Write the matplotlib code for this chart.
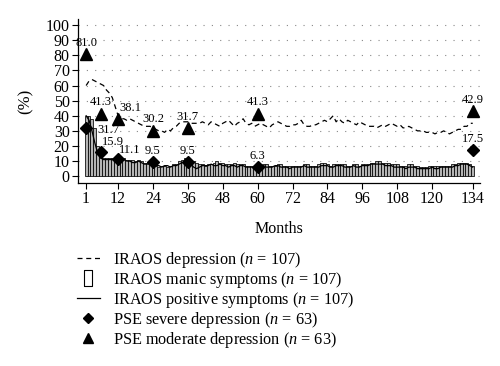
import matplotlib
matplotlib.use("Agg")
import matplotlib.pyplot as plt
from matplotlib.lines import Line2D
import numpy as np

plt.rcParams['font.family'] = ['Liberation Serif', 'DejaVu Serif']
plt.rcParams['mathtext.fontset'] = 'custom'
plt.rcParams['mathtext.it'] = 'Liberation Serif:italic'
plt.rcParams['mathtext.rm'] = 'Liberation Serif'

months = list(range(1, 135))

iraos_depression = [60, 63, 64, 63, 62, 61, 60, 57, 55, 52, 46, 40, 38, 38, 37, 38, 37, 36, 35, 34,
                    33, 33, 33, 32, 31, 30, 30, 29, 31, 30, 32, 33, 35, 36, 36, 36, 35, 35, 35, 35,
                    36, 35, 34, 36, 35, 34, 33, 35, 36, 37, 35, 33, 35, 36, 38, 35, 34, 35, 33, 34,
                    35, 34, 33, 32, 34, 35, 36, 35, 34, 33, 33, 34, 34, 35, 37, 34, 33, 33, 34, 34,
                    35, 36, 37, 36, 38, 40, 36, 38, 36, 35, 37, 36, 35, 34, 36, 35, 34, 33, 33, 33,
                    32, 33, 34, 33, 34, 35, 34, 33, 34, 32, 32, 33, 32, 31, 30, 30, 30, 29, 29, 29,
                    28, 29, 29, 30, 29, 28, 29, 30, 31, 31, 33, 33, 35, 35]

iraos_manic = [40, 40, 38, 32, 20, 14, 12, 12, 12, 12, 12, 12, 12, 12, 11, 11, 11, 10, 11, 10,
               9, 9, 9, 8, 7, 6, 7, 7, 6, 7, 8, 8, 10, 11, 12, 12, 11, 10, 9, 8,
               8, 7, 8, 8, 9, 10, 9, 9, 8, 8, 8, 9, 8, 8, 8, 7, 7, 7, 7, 7,
               7, 8, 8, 7, 7, 7, 8, 8, 7, 7, 7, 7, 7, 7, 7, 8, 8, 7, 7, 7,
               8, 9, 9, 8, 7, 8, 8, 8, 8, 8, 7, 7, 8, 8, 7, 8, 8, 8, 9, 9,
               10, 10, 9, 9, 9, 8, 8, 8, 7, 7, 7, 8, 8, 7, 7, 6, 6, 6, 7, 7,
               7, 7, 7, 7, 7, 7, 8, 8, 9, 9, 9, 9, 8, 7]

iraos_positive = [40, 37, 30, 22, 15, 12, 11, 11, 11, 11, 11, 10, 11, 11, 10, 10, 9, 9, 10, 9,
                  8, 8, 8, 8, 7, 7, 6, 7, 7, 6, 7, 7, 8, 9, 9, 9, 8, 6, 5, 6,
                  7, 7, 7, 8, 7, 7, 8, 7, 7, 6, 7, 7, 6, 7, 7, 6, 6, 6, 5, 6,
                  6, 7, 6, 6, 6, 7, 7, 6, 6, 6, 5, 6, 6, 6, 6, 7, 6, 6, 6, 6,
                  6, 7, 7, 7, 6, 6, 7, 7, 7, 6, 6, 6, 7, 6, 6, 7, 7, 7, 8, 8,
                  8, 8, 8, 7, 7, 7, 6, 6, 6, 6, 5, 6, 6, 6, 5, 5, 5, 5, 5, 6,
                  5, 5, 6, 6, 6, 6, 6, 7, 7, 8, 8, 8, 7, 6]

pse_months = [1, 6, 12, 24, 36, 60, 134]
pse_severe = [31.7, 15.9, 11.1, 9.5, 9.5, 6.3, 17.5]
pse_moderate = [81.0, 41.3, 38.1, 30.2, 31.7, 41.3, 42.9]

xticks = [1, 12, 24, 36, 48, 60, 72, 84, 96, 108, 120, 134]
yticks = list(range(0, 101, 10))

fig = plt.figure(figsize=(5.0, 3.66), dpi=100)
ax = fig.add_axes([0.156, 0.5, 0.804, 0.448])

for y in yticks:
    ax.axhline(y, color='#888888', lw=0.8, ls=(0, (1, 6.5)), zorder=0)

ax.bar(months, iraos_manic, width=1.0, color='#b4b4b4', edgecolor='black', lw=0.55, zorder=2)
ax.plot(months, iraos_positive, color='black', lw=0.9, zorder=3)
ax.plot(months, iraos_depression, color='black', lw=0.9, ls=(0, (4, 3)), zorder=3)
ax.plot(pse_months, pse_severe, ls='none', marker='D', ms=6.5, color='black', zorder=4)
ax.plot(pse_months, pse_moderate, ls='none', marker='^', ms=8.5, color='black', zorder=4)

lab_fs = 9
for m, v in zip(pse_months, pse_moderate):
    if m == 12:
        ax.text(m + 0.5, v + 3, f"{v:.1f}", ha='left', va='bottom', fontsize=lab_fs, zorder=5)
    else:
        ax.text(m, v + 3.5, f"{v:.1f}", ha='center', va='bottom', fontsize=lab_fs, zorder=5)
for m, v in zip(pse_months, pse_severe):
    if m == 1:
        ax.text(m + 4, v - 1, f"{v:.1f}", ha='left', va='center', fontsize=lab_fs, zorder=5)
    elif m in (6, 12):
        ax.text(m + 0.3, v + 2.5, f"{v:.1f}", ha='left', va='bottom', fontsize=lab_fs, zorder=5)
    else:
        ax.text(m, v + 3, f"{v:.1f}", ha='center', va='bottom', fontsize=lab_fs, zorder=5)

ax.set_xlim(-1.8, 136.5)
ax.set_ylim(-4.5, 104)
ax.set_xticks(xticks)
ax.set_yticks(yticks)
ax.tick_params(labelsize=11.5, length=4, width=0.8, direction='out', pad=2)
for s in ['top', 'right']:
    ax.spines[s].set_visible(False)
ax.spines['left'].set_linewidth(0.9)
ax.spines['bottom'].set_linewidth(0.9)
ax.set_xlabel('Months', fontsize=11.5, labelpad=10)
ax.set_ylabel('(%)', fontsize=12, labelpad=9)

rect_marker = [(-0.45, -1), (0.45, -1), (0.45, 1), (-0.45, 1), (-0.45, -1)]
handles = [
    Line2D([], [], color='black', lw=0.9, ls=(0, (4, 3))),
    Line2D([], [], ls='none', marker=rect_marker, ms=12, mfc='white', mec='black', mew=0.8),
    Line2D([], [], color='black', lw=0.9),
    Line2D([], [], ls='none', marker='D', ms=5, color='black'),
    Line2D([], [], ls='none', marker='^', ms=6.5, color='black'),
]
labels = [
    r'IRAOS depression ($n$ = 107)',
    r'IRAOS manic symptoms ($n$ = 107)',
    r'IRAOS positive symptoms ($n$ = 107)',
    r'PSE severe depression ($n$ = 63)',
    r'PSE moderate depression ($n$ = 63)',
]
fig.legend(handles, labels, loc='upper left', bbox_to_anchor=(0.154, 0.317), frameon=False,
           fontsize=11.7, handlelength=1.4, handletextpad=0.8, labelspacing=0.0, borderpad=0,
           borderaxespad=0)

fig.savefig('out.png', dpi=100)
